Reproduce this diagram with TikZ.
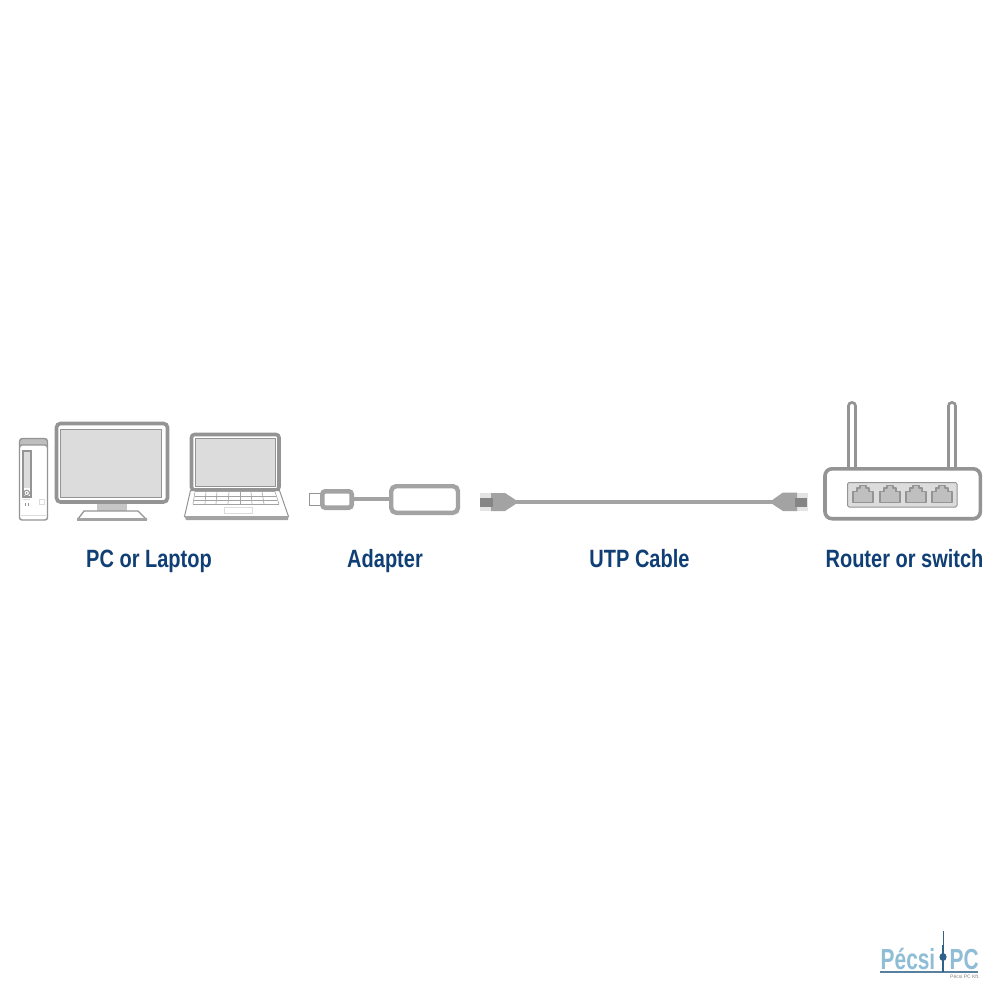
\documentclass[tikz,border=0pt]{standalone}
\usepackage{fontspec}
\setmainfont{Liberation Sans}
\newfontfamily\lblfont[FakeStretch=0.8]{Liberation Sans}
\newfontfamily\logofont[FakeStretch=0.72]{Liberation Sans}
\definecolor{edgegray}{HTML}{949494}
\definecolor{midgray}{HTML}{A3A3A3}
\definecolor{plugdark}{HTML}{858585}
\definecolor{screengray}{HTML}{DCDCDC}
\definecolor{lightgray2}{HTML}{E4E4E4}
\definecolor{lblblue}{HTML}{0F3F75}
\definecolor{logoblue}{HTML}{8FBDD6}
\definecolor{logodark}{HTML}{2F6288}
\tikzset{
  thick edge/.style={draw=edgegray,line width=3.6pt},
  thin edge/.style={draw=edgegray,line width=1pt},
  hair edge/.style={draw=midgray,line width=.6pt},
  label text/.style={text=lblblue,font=\lblfont\bfseries\fontsize{25}{28}\selectfont,inner sep=0pt,anchor=base},
  logo text/.style={text=logoblue,font=\logofont\bfseries\fontsize{29}{30}\selectfont,inner sep=0pt,anchor=base west},
  cable/.style={draw=midgray,line width=4pt},
  port/.style={draw=edgegray,line width=1.2pt,fill=midgray!70,line join=round},
}
\begin{document}
\begin{tikzpicture}[x=1pt,y=-1pt]
\useasboundingbox[fill=white] (0,0) rectangle (1000,1000);

% --- tower
\fill[midgray!70,rounded corners=3pt] (19.5,438) rectangle (47.5,447);
\draw[thin edge,line width=1.4pt,fill=white,rounded corners=2.5pt] (19.5,445) rectangle (47.5,520);
\draw[thin edge,line width=1.4pt,rounded corners=3pt] (19.5,447) -- (19.5,438.5) -- (47.5,438.5) -- (47.5,447);
\draw[thin edge,fill=white,line width=1.2pt] (23,451) rectangle (31,497);
\fill[screengray] (24,452) rectangle (30,488);
\draw[thin edge,fill=white] (26.7,493) circle (2.8);
\fill[edgegray] (26.7,493) circle (1);
\fill[edgegray] (24.5,503) rectangle (25.7,505.5);
\fill[edgegray] (28,503) rectangle (29.2,505.5);
\draw[screengray] (23,499.5) -- (30,499.5);
\draw[screengray] (39,499) rectangle (44,504);
\draw[screengray] (21,515) -- (46,515);

% --- monitor
\draw[thick edge,fill=white,rounded corners=4pt] (56.5,423.5) rectangle (167.5,502);
\draw[thin edge,fill=screengray] (60.5,429) rectangle (161.5,497);
\fill[screengray!90!black] (97,504) rectangle (127,511);
\draw[thin edge,line width=1.3pt,fill=white] (84,511) -- (138,511) -- (146,519) -- (78,519) -- cycle;
\fill[midgray] (77,517.5) -- (147,517.5) -- (147,520.5) -- (77,520.5) -- cycle;

% --- laptop
\draw[thick edge,fill=white,rounded corners=3pt] (191.5,434.5) rectangle (279,490);
\draw[thin edge,fill=screengray] (195.5,438) rectangle (275,486.5);
\draw[thin edge,fill=white] (190.5,490.5) -- (279.5,490.5) -- (288.5,516.5) -- (184.5,516.5) -- cycle;
\fill[midgray] (184.5,516) -- (288.5,516) -- (288,520) -- (186,520) -- cycle;
\foreach \yy/\xa/\xb in {491.5/195/275,496/194.5/276,500/194/277,504/193/279}
  \draw[hair edge] (\xa,\yy) -- (\xb,\yy);
\foreach \xa/\xb in {195/193,206/205,217/216,229/228,240/240,251/252,262/264,275/279}
  \draw[hair edge] (\xa,491.5) -- (\xb,504);
\draw[draw=screengray,line width=.8pt] (224,507) rectangle (252,513);

% --- adapter
\coordinate (plugend) at (353,499);
\coordinate (boxend) at (389,499);
\draw[cable] (plugend) -- (boxend);
\draw[thin edge,line width=1.2pt,fill=white] (309.5,493.5) rectangle (321,505.5);
\draw[draw=midgray,line width=4.6pt,fill=white,rounded corners=3pt] (322.3,491.3) rectangle (351.7,507.7);
\draw[draw=midgray,line width=4.4pt,fill=white,rounded corners=5pt] (391.2,486.2) rectangle (458,512.8);

% --- UTP cable
\coordinate (leftend) at (514,502);
\coordinate (rightend) at (774,502);
\draw[cable] (leftend) -- (rightend);
% left plug
\fill[lightgray2] (480,493) rectangle (492,511);
\fill[midgray] (491,493) -- (505,493) -- (515,499.5) -- (515,504.5) -- (505,511) -- (491,511) -- cycle;
\fill[plugdark] (480,498) rectangle (493,506.5);
% right plug
\fill[lightgray2] (796,493) rectangle (808,511);
\fill[midgray] (797,492.5) -- (783,492.5) -- (773,499.5) -- (773,504.5) -- (783,511) -- (797,511) -- cycle;
\fill[plugdark] (795,498) rectangle (807,506.5);

% --- router
\foreach \ax in {852,952}{
  \draw[edgegray,line width=10pt,line cap=round] (\ax,468) -- (\ax,406);
  \draw[white,line width=4pt,line cap=round] (\ax,468) -- (\ax,406);
}
\draw[thick edge,fill=white,rounded corners=7pt] (825,468.8) rectangle (980.3,518.7);
\draw[thin edge,fill=screengray,rounded corners=1.5pt] (847.5,482.5) rectangle (957,507);
\foreach \cx in {863,890,916,942}{
  \draw[port] (\cx-10,502.5) -- (\cx+10,502.5) -- (\cx+10,491.5) -- (\cx+6,491.5) -- (\cx+6,488) -- (\cx+3,488) -- (\cx+3,485.5) -- (\cx-3,485.5) -- (\cx-3,488) -- (\cx-6,488) -- (\cx-6,491.5) -- (\cx-10,491.5) -- cycle;
}

% --- labels
\node[label text] (pc) at (149,567) {PC or Laptop};
\node[label text] (adapter) at (385,567) {Adapter};
\node[label text] (utp) at (639.5,567) {UTP Cable};
\node[label text] (router) at (904.5,567) {Router or switch};

% --- logo
\node[logo text] (logoa) at (880.5,969) {Pécsi};
\node[logo text] (logob) at (949.5,969) {PC};
\draw[logodark!80,line width=1.2pt] (880,972) -- (978,972);
\draw[logodark,line width=1pt] (943,931) -- (943,945);
\draw[logodark,line width=2.4pt] (943,945) -- (943,972);
\fill[logodark] (943,957) ellipse (3.6 and 4);
\node[text=black!50,font=\fontsize{5}{6}\selectfont,inner sep=0pt,anchor=base west] (logoc) at (950,978.5) {Pécsi PC Kft.};
\end{tikzpicture}
\end{document}
